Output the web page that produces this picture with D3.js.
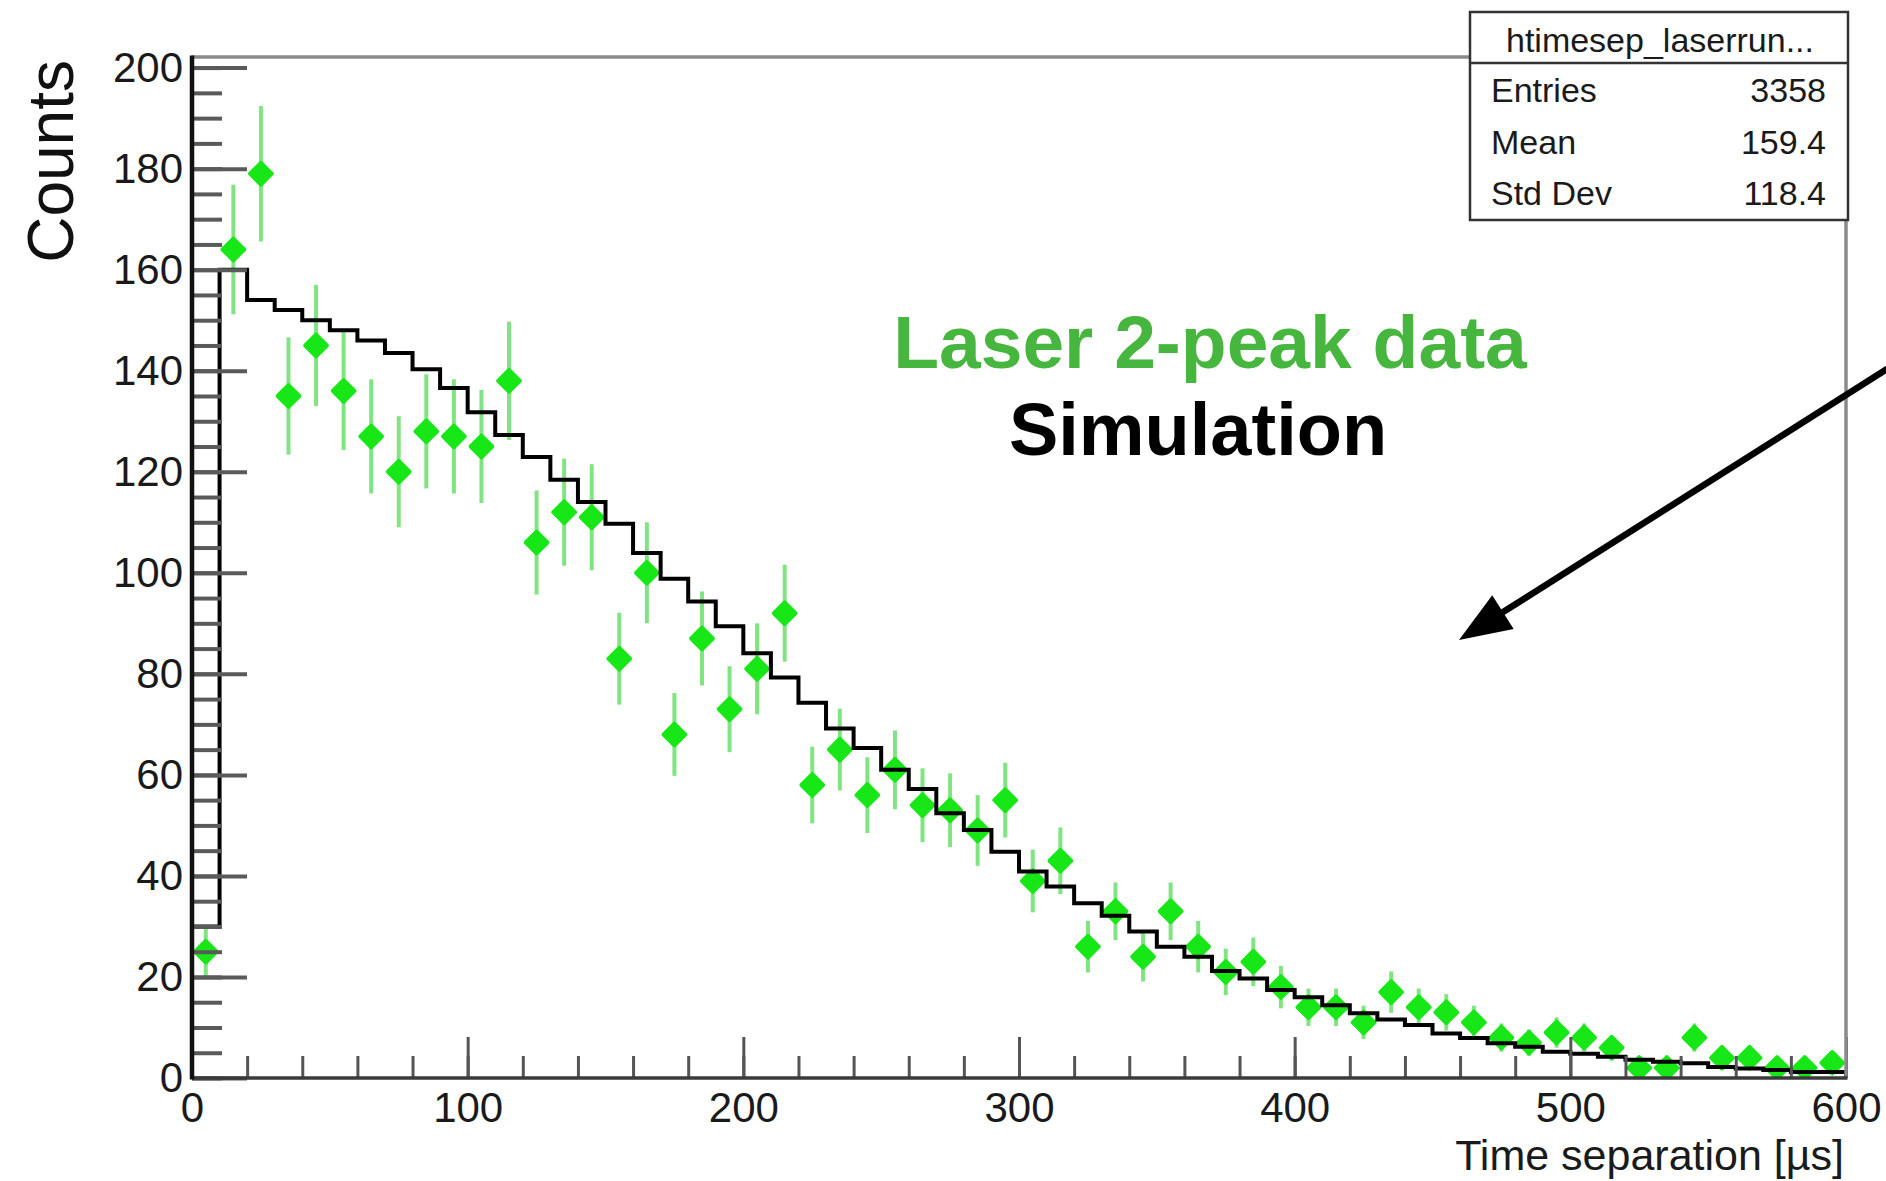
<!DOCTYPE html>
<html>
<head>
<meta charset="utf-8">
<script src="https://cdn.jsdelivr.net/npm/d3@7"></script>
<style>
  html, body { margin: 0; padding: 0; background: #fff; }
  svg { display: block; }
  text { font-family: "Liberation Sans", Arial, Helvetica, sans-serif; }
</style>
</head>
<body>
<div id="chart"></div>
<script>
// ========================================
// DATA
// ========================================

const binWidth = 10;
const xTicks = [0, 100, 200, 300, 400, 500, 600];
const yTicks = [0, 20, 40, 60, 80, 100, 120, 140, 160, 180, 200];

// laser 2-peak data, counts per 10 us bin
const dataCounts = [
  25, 164, 179, 135, 145, 136, 127, 120, 128, 127,
  125, 138, 106, 112, 111, 83, 100, 68, 87, 73,
  81, 92, 58, 65, 56, 61, 54, 53, 49, 55,
  39, 43, 26, 33, 24, 33, 26, 21, 23, 18,
  14, 14, 11, 17, 14, 13, 11, 8, 7, 9,
  8, 6, 2, 2, 8, 4, 4, 2, 2, 3
];

const dataErrors = [
  5.0, 12.8, 13.4, 11.6, 12.0, 11.7, 11.3, 11.0, 11.3, 11.3,
  11.2, 11.7, 10.3, 10.6, 10.5, 9.1, 10.0, 8.2, 9.3, 8.5,
  9.0, 9.6, 7.6, 8.1, 7.5, 7.8, 7.3, 7.3, 7.0, 7.4,
  6.2, 6.6, 5.1, 5.7, 4.9, 5.7, 5.1, 4.6, 4.8, 4.2,
  3.7, 3.7, 3.3, 4.1, 3.7, 3.6, 3.3, 2.8, 2.6, 3.0,
  2.8, 2.4, 1.4, 1.4, 2.8, 2.0, 2.0, 1.4, 1.4, 1.7
];

// simulation histogram
const simCounts = [
  30, 160, 154, 152, 150, 148, 146, 143.5, 140.3, 136.6,
  131.8, 127.3, 122.9, 118.4, 114, 109.7, 103.9, 98.8, 94.3, 89.4,
  84.1, 79.3, 74.3, 69.2, 65.3, 61, 57.2, 52.4, 49.1, 44.8,
  40.9, 37.9, 34.6, 32.1, 29, 26, 24, 21.2, 19.7, 17.4,
  16, 14.4, 12.8, 11.6, 10.5, 8.8, 7.9, 6.9, 6.2, 5.2,
  4.8, 4.2, 3.6, 3.2, 2.9, 2.2, 1.9, 1.6, 1.2, 1.2
];

const statsLabels = ["Entries", "Mean", "Std Dev"];
const statsValues = ["3358", "159.4", "118.4"];

// ========================================
// SETUP
// ========================================

const width = 1886, height = 1181;
const frame = { left: 192, right: 1846, top: 57, bottom: 1078 };

const svg = d3.select("#chart")
  .append("svg")
  .attr("width", width)
  .attr("height", height);

const x = d3.scaleLinear().domain([0, 600]).range([frame.left, frame.right]);
const y = d3.scaleLinear().domain([0, 202.1]).range([frame.bottom, frame.top]);

svg.append("clipPath")
  .attr("id", "plot-clip")
  .append("rect")
  .attr("x", frame.left)
  .attr("y", frame.top)
  .attr("width", frame.right - frame.left)
  .attr("height", frame.bottom - frame.top);

const plot = svg.append("g").attr("clip-path", "url(#plot-clip)");

// ========================================
// DATA POINTS
// ========================================

const points = dataCounts.map((c, i) => ({ x: (i + 0.5) * binWidth, y: c, err: dataErrors[i] }));

plot.append("g")
  .selectAll("line")
  .data(points)
  .join("line")
  .attr("x1", d => x(d.x))
  .attr("x2", d => x(d.x))
  .attr("y1", d => y(d.y - d.err))
  .attr("y2", d => y(d.y + d.err))
  .attr("stroke", "#80e480")
  .attr("stroke-width", 4);

const diamond = d3.symbol().type(d3.symbolDiamond2).size(300);

plot.append("g")
  .selectAll("path")
  .data(points)
  .join("path")
  .attr("transform", d => "translate(" + x(d.x) + "," + y(d.y) + ")")
  .attr("d", diamond)
  .attr("fill", "#17e617")
  .attr("stroke", "#17e617")
  .attr("stroke-width", 4)
  .attr("stroke-linejoin", "round");

// ========================================
// SIMULATION HISTOGRAM
// ========================================

let steps = [[0, 0]];
simCounts.forEach((c, i) => steps.push([i * binWidth, c]));
steps.push([simCounts.length * binWidth, simCounts[simCounts.length - 1]]);
steps.push([simCounts.length * binWidth, 0]);

const stepLine = d3.line()
  .x(d => x(d[0]))
  .y(d => y(d[1]))
  .curve(d3.curveStepAfter);

plot.append("path")
  .datum(steps)
  .attr("d", stepLine)
  .attr("fill", "none")
  .attr("stroke", "#000")
  .attr("stroke-width", 4)
  .attr("stroke-linejoin", "miter");

// ========================================
// AXES
// ========================================

function styleAxis(g, color, w) {
  g.select(".domain").remove();
  g.selectAll(".tick line").attr("stroke", color).attr("stroke-width", w);
  g.selectAll(".tick text")
    .attr("fill", "#1a1a1a")
    .style("font-size", "42px");
}

// x minor ticks every 20
svg.append("g")
  .attr("transform", "translate(0," + frame.bottom + ")")
  .call(d3.axisBottom(x).tickValues(d3.range(0, 601, 20)).tickSize(-22).tickFormat(""))
  .call(g => styleAxis(g, "#555", 3));

svg.append("g")
  .attr("transform", "translate(0," + frame.bottom + ")")
  .call(d3.axisBottom(x).tickValues(xTicks).tickSize(-41).tickSizeOuter(0).tickPadding(14).tickFormat(d3.format("d")))
  .call(g => styleAxis(g, "#555", 3));

// y minor ticks every 5
svg.append("g")
  .attr("transform", "translate(" + frame.left + ",0)")
  .call(d3.axisLeft(y).tickValues(d3.range(0, 201, 5)).tickSize(-30).tickFormat(""))
  .call(g => styleAxis(g, "#5a5a5a", 4));

svg.append("g")
  .attr("transform", "translate(" + frame.left + ",0)")
  .call(d3.axisLeft(y).tickValues(yTicks).tickSize(-55).tickSizeOuter(0).tickPadding(9).tickFormat(d3.format("d")))
  .call(g => styleAxis(g, "#5a5a5a", 4));

// frame
svg.append("line")
  .attr("x1", frame.left).attr("x2", frame.right)
  .attr("y1", frame.top).attr("y2", frame.top)
  .attr("stroke", "#8a8a8a").attr("stroke-width", 3.5);
svg.append("line")
  .attr("x1", frame.right).attr("x2", frame.right)
  .attr("y1", frame.top).attr("y2", frame.bottom)
  .attr("stroke", "#8a8a8a").attr("stroke-width", 3.5);
svg.append("line")
  .attr("x1", frame.left).attr("x2", frame.right + 1.5)
  .attr("y1", frame.bottom).attr("y2", frame.bottom)
  .attr("stroke", "#3a3a3a").attr("stroke-width", 3.5);
svg.append("line")
  .attr("x1", frame.left).attr("x2", frame.left)
  .attr("y1", frame.top - 1.5).attr("y2", frame.bottom + 1.5)
  .attr("stroke", "#111").attr("stroke-width", 4.5);

// axis titles
svg.append("text")
  .attr("x", frame.right - 2)
  .attr("y", 1170)
  .attr("text-anchor", "end")
  .attr("fill", "#1a1a1a")
  .style("font-size", "43px")
  .text("Time separation [µs]");

svg.append("text")
  .attr("transform", "translate(73,60) rotate(-90)")
  .attr("text-anchor", "end")
  .attr("fill", "#111")
  .style("font-size", "64px")
  .text("Counts");

// ========================================
// STATS BOX
// ========================================

const stats = svg.append("g");

stats.append("rect")
  .attr("x", 1470).attr("y", 12)
  .attr("width", 378).attr("height", 208)
  .attr("fill", "#fff")
  .attr("stroke", "#333")
  .attr("stroke-width", 2.5);

stats.append("line")
  .attr("x1", 1470).attr("x2", 1848)
  .attr("y1", 63).attr("y2", 63)
  .attr("stroke", "#333")
  .attr("stroke-width", 2.5);

stats.append("text")
  .attr("x", 1660).attr("y", 52)
  .attr("text-anchor", "middle")
  .attr("fill", "#1a1a1a")
  .style("font-size", "34px")
  .text("htimesep_laserrun...");

statsLabels.forEach((label, i) => {
  stats.append("text")
    .attr("x", 1491).attr("y", 102 + i * 51.7)
    .attr("fill", "#1a1a1a")
    .style("font-size", "34px")
    .text(label);
  stats.append("text")
    .attr("x", 1826).attr("y", 102 + i * 51.7)
    .attr("text-anchor", "end")
    .attr("fill", "#1a1a1a")
    .style("font-size", "34px")
    .text(statsValues[i]);
});

// ========================================
// ANNOTATIONS
// ========================================

svg.append("text")
  .attr("x", 1210).attr("y", 368)
  .attr("text-anchor", "middle")
  .attr("fill", "#46b63e")
  .style("font-size", "75px")
  .style("font-weight", "bold")
  .text("Laser 2-peak data");

svg.append("text")
  .attr("x", 1198).attr("y", 455)
  .attr("text-anchor", "middle")
  .attr("fill", "#000")
  .style("font-size", "74px")
  .style("font-weight", "bold")
  .text("Simulation");

// arrow pointing at the histogram
const arrowStart = [1895, 364], arrowTip = [1459, 640];
const ang = Math.atan2(arrowTip[1] - arrowStart[1], arrowTip[0] - arrowStart[0]);
const headLen = 52, headHalf = 20;
const baseX = arrowTip[0] - headLen * Math.cos(ang), baseY = arrowTip[1] - headLen * Math.sin(ang);

svg.append("line")
  .attr("x1", arrowStart[0]).attr("y1", arrowStart[1])
  .attr("x2", baseX + 5 * Math.cos(ang)).attr("y2", baseY + 5 * Math.sin(ang))
  .attr("stroke", "#000")
  .attr("stroke-width", 6.5);

svg.append("path")
  .attr("d", "M" + arrowTip[0] + "," + arrowTip[1] +
    "L" + (baseX + headHalf * Math.sin(ang)) + "," + (baseY - headHalf * Math.cos(ang)) +
    "L" + (baseX - headHalf * Math.sin(ang)) + "," + (baseY + headHalf * Math.cos(ang)) + "Z")
  .attr("fill", "#000");
</script>
</body>
</html>
